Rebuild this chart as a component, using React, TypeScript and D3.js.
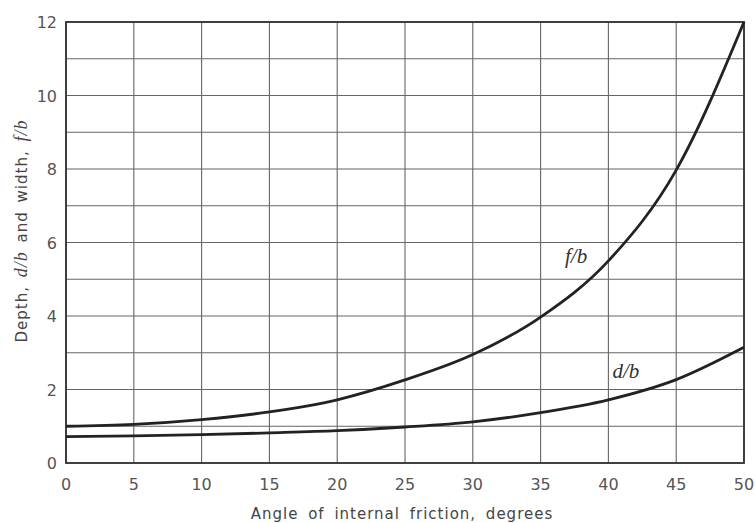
import React, { useEffect, useRef } from 'react';
import * as d3 from 'd3';

// values
const angles = [0, 5, 10, 15, 20, 25, 30, 35, 40, 45, 50];
const widthRatio = [1.0, 1.05, 1.18, 1.39, 1.72, 2.26, 2.95, 3.97, 5.5, 7.97, 12.0];
const depthRatio = [0.72, 0.74, 0.77, 0.82, 0.88, 0.98, 1.12, 1.37, 1.72, 2.27, 3.15];
const xTicks = [0, 5, 10, 15, 20, 25, 30, 35, 40, 45, 50];
const yTicks = [0, 2, 4, 6, 8, 10, 12];
const yGrid = d3.range(0, 13, 1);

const W = 756;
const H = 523;
const margin = { top: 22, right: 12, bottom: 60, left: 66 };

const App = () => {
  const svgRef = useRef<SVGSVGElement>(null);

  useEffect(() => {
    const svg = d3.select(svgRef.current);
    svg.selectAll('*').remove();

    const x = d3.scaleLinear().domain([0, 50]).range([margin.left, W - margin.right]);
    const y = d3.scaleLinear().domain([0, 12]).range([H - margin.bottom, margin.top]);

    const font = 'DejaVu Sans, sans-serif';
    const serif = 'Liberation Serif, serif';
    const grid = svg.append('g').attr('stroke', '#666').attr('stroke-width', 1.1);

    grid.selectAll('line.h')
      .data(yGrid)
      .join('line')
      .attr('x1', x(0)).attr('x2', x(50))
      .attr('y1', d => y(d)).attr('y2', d => y(d));

    grid.selectAll('line.v')
      .data(xTicks)
      .join('line')
      .attr('class', 'v')
      .attr('y1', y(0)).attr('y2', y(12))
      .attr('x1', d => x(d)).attr('x2', d => x(d));

    // frame
    svg.append('rect')
      .attr('x', x(0)).attr('y', y(12))
      .attr('width', x(50) - x(0)).attr('height', y(0) - y(12))
      .attr('fill', 'none').attr('stroke', '#333').attr('stroke-width', 1.8);

    const line = d3.line<number>()
      .x((_, i) => x(angles[i]))
      .y(d => y(d))
      .curve(d3.curveMonotoneX);

    [widthRatio, depthRatio].forEach(s => {
      svg.append('path')
        .attr('d', line(s))
        .attr('fill', 'none')
        .attr('stroke', '#222')
        .attr('stroke-width', 2.8);
    });

    // tick labels
    svg.append('g').selectAll('text')
      .data(xTicks)
      .join('text')
      .attr('x', d => x(d))
      .attr('y', y(0) + 27)
      .attr('text-anchor', 'middle')
      .attr('font-family', font)
      .attr('font-size', 16)
      .attr('fill', '#555')
      .text(d => d);

    svg.append('g').selectAll('text')
      .data(yTicks)
      .join('text')
      .attr('x', x(0) - 9)
      .attr('y', d => y(d) + 6)
      .attr('text-anchor', 'end')
      .attr('font-family', font)
      .attr('font-size', 16)
      .attr('fill', '#555')
      .text(d => d);

    // axis titles
    svg.append('text')
      .attr('x', 402).attr('y', 519)
      .attr('text-anchor', 'middle')
      .attr('font-family', font)
      .attr('font-size', 15)
      .attr('fill', '#444')
      .attr('letter-spacing', 1)
      .attr('word-spacing', 4)
      .text('Angle of internal friction, degrees');

    const yt = svg.append('text')
      .attr('transform', 'translate(27,231) rotate(-90)')
      .attr('text-anchor', 'middle')
      .attr('font-family', font)
      .attr('font-size', 15)
      .attr('letter-spacing', 1)
      .attr('word-spacing', 3)
      .attr('fill', '#444');
    yt.append('tspan').text('Depth, ');
    yt.append('tspan').attr('font-family', serif).attr('font-style', 'italic').attr('font-size', 18).text('d/b');
    yt.append('tspan').text(' and width, ');
    yt.append('tspan').attr('font-family', serif).attr('font-style', 'italic').attr('font-size', 18).text('f/b');

    // curve labels
    svg.append('text')
      .attr('x', x(36.8)).attr('y', y(5.45))
      .attr('font-family', serif)
      .attr('font-style', 'italic')
      .attr('font-size', 21)
      .attr('fill', '#333')
      .text('f/b');

    svg.append('text')
      .attr('x', x(40.3)).attr('y', y(2.3))
      .attr('font-family', serif)
      .attr('font-style', 'italic')
      .attr('font-size', 21)
      .attr('fill', '#333')
      .text('d/b');
  }, []);

  return (
    <svg ref={svgRef} width={W} height={H} style={{ display: 'block', position: 'absolute', left: 0, top: 0, background: '#fff' }} />
  );
};

export default App;
